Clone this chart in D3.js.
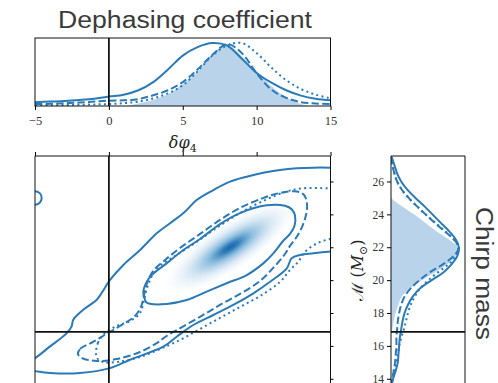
<!DOCTYPE html>
<html>
<head>
<meta charset="utf-8">
<script src="https://cdn.jsdelivr.net/npm/d3@7"></script>
<style>
  html, body { margin: 0; padding: 0; background: #fff; }
  svg { display: block; }
</style>
</head>
<body>
<svg id="chart" width="498" height="383"></svg>
<script>
// ---- data ----
const xTicks = [-5, 0, 5, 10, 15];
const massTicks = [14, 16, 18, 20, 22, 24, 26];
const refX = 0;          // vertical reference line (delta phi_4)
const refMass = 16.85;   // horizontal reference line (chirp mass)

// top marginal: delta phi_4 grid and normalised densities
const phiGrid = [-5,-4,-3,-2,-1,0,1,2,3,4,5,6,7,8,9,10,11,12,13,14,15];
const phiFill   = [0,0,0,0,0,0,0.01,0.05,0.11,0.2,0.36,0.56,0.83,1.0,0.8,0.565,0.33,0.15,0.045,0,0];
const phiSolid  = [0.06,0.07,0.08,0.095,0.115,0.15,0.18,0.25,0.38,0.58,0.8,0.935,1.0,0.96,0.75,0.525,0.37,0.25,0.165,0.115,0.09];
const phiDashed = [0.03,0.035,0.045,0.055,0.07,0.085,0.09,0.11,0.17,0.25,0.38,0.58,0.81,0.985,0.84,0.52,0.26,0.13,0.06,0.04,0.03];
const phiDotted = [0.01,0.012,0.015,0.02,0.025,0.03,0.045,0.07,0.12,0.2,0.33,0.55,0.8,0.96,1.0,0.84,0.61,0.41,0.27,0.18,0.12];

// right marginal: chirp mass grid and normalised densities
const massGrid = [27.5,27,26.5,26,25.5,25,24.5,24,23.5,23,22.5,22,21.5,21,20.5,20,19.5,19,18.5,18,17.5,17,16.5,16,15.5,15,14.5,14,13.5];
const massFill   = [0,0,0,0,0,0.02,0.18,0.36,0.52,0.68,0.86,1.0,0.97,0.86,0.68,0.48,0.3,0.17,0.12,0.08,0.05,0.03,0,0,0,0,0,0,0];
const massSolid  = [0.01,0.05,0.09,0.15,0.24,0.36,0.49,0.61,0.73,0.85,0.95,1.0,0.98,0.9,0.78,0.6,0.43,0.32,0.25,0.2,0.17,0.15,0.13,0.12,0.11,0.1,0.07,0.03,0];
const massDashed = [0,0.02,0.05,0.09,0.16,0.26,0.38,0.51,0.64,0.78,0.92,1.0,0.93,0.78,0.58,0.42,0.29,0.2,0.15,0.12,0.1,0.09,0.08,0.08,0.07,0.06,0.04,0.02,0];
const massDotted = [0,0.02,0.05,0.09,0.16,0.26,0.38,0.51,0.65,0.79,0.92,0.99,0.96,0.86,0.7,0.55,0.43,0.35,0.29,0.25,0.22,0.19,0.15,0.12,0.1,0.08,0.05,0.03,0];

// joint contours [delta phi_4, chirp mass]
const solidOuter = [[-5.34,15.14],[-5,15.26],[-3.98,15.97],[-2.85,16.78],[-2.52,17.19],[-2.41,17.59],[-1.73,18.2],[-0.82,18.81],[-0.49,19.22],[0.08,20.01],[0.98,20.92],[2.11,21.83],[3.24,22.85],[4.14,23.46],[5.15,24.16],[5.94,24.87],[7.07,25.48],[8.2,25.99],[9.33,26.29],[10.45,26.53],[11.58,26.7],[12.71,26.8],[13.84,26.84],[14.97,26.84],[15.98,26.82],
  [15.98,21.71],[14.97,21.74],[13.84,21.63],[12.94,21.53],[12.37,21.33],[12.04,20.72],[10.91,19.9],[9.78,19.2],[8.42,18.49],[7.07,17.88],[5.71,17.27],[4.59,16.56],[3.68,15.95],[1.43,15.16],[0.08,14.65],[-1.95,14.35],[-3.98,14.35],[-4.88,14.45],[-5.34,14.53]];
const solidInner = [[2.45,18.79],[2.33,19.3],[2.78,20.19],[3.91,21.02],[5.04,21.83],[6.17,22.5],[7.52,23.41],[8.87,24.08],[10.68,24.55],[11.92,24.52],[12.39,24.3],[12.6,23.92],[12.56,23.29],[12.26,22.81],[11.79,22.38],[11.13,21.63],[10.45,21.02],[9.33,20.31],[7.97,19.81],[6.62,19.3],[5.27,18.79],[3.91,18.55],[2.78,18.56],[2.51,18.67]];
const solidBlip = [[-5,25.41],[-4.68,25.29],[-4.55,25.0],[-4.68,24.71],[-5,24.59],[-5.32,24.71],[-5.45,25.0],[-5.32,25.29]];
const dashedContour = [[-2.09,15.51],[-1.95,15.81],[-1.07,16.24],[-0.19,16.72],[0.75,17.21],[1.77,17.82],[2.17,18.37],[2.38,19.1],[2.58,19.82],[2.99,20.55],[3.8,21.22],[4.81,21.95],[6.17,22.81],[7.52,23.66],[8.87,24.39],[10.43,24.99],[11.58,25.3],[12.73,25.39],[13.21,25.18],[13.41,24.63],[13.34,23.96],[13.07,23.23],[12.66,22.56],[12.26,22.08],
  [11.92,21.59],[11.24,20.86],[10.23,19.95],[8.87,19.16],[7.52,18.49],[6.17,17.77],[4.59,16.96],[3.91,16.6],[3.24,16.17],[2.11,15.63],[0.53,15.2],[-0.82,15.08],[-1.82,15.26]];
const dottedContour = [[-0.87,15.63],[-0.74,16.18],[-0.4,16.66],[0.53,17.21],[1.43,17.51],[2.11,18.0],[2.38,18.79],[2.58,19.52],[2.92,20.25],[3.46,20.86],[4.48,21.47],[5.83,22.26],[7.18,23.11],[8.87,24.08],[10.57,24.87],[11.92,25.36],[12.94,25.57],[14.97,25.59],[15.98,25.59],
  [15.98,22.62],[14.97,22.5],[14.07,22.23],[13.27,21.71],[12.8,21.1],[12.26,20.62],[11.58,19.89],[10.23,19.03],[8.87,18.37],[7.52,17.7],[6.17,17.03],[4.81,16.36],[3.46,15.81],[2.11,15.33],[0.55,15.02],[-0.4,15.02],[-0.8,15.26]];
// density shading: centre and the two ends of its long axis
const blobCenter = [8.2, 22.0];
const blobAxis = [[3.6, 19.3], [12.8, 24.7]];

// ---- layout ----
const svg = d3.select("#chart");
const blue = "#2a7ab8";
const fillBlue = "#b9d4ea";

const x = d3.scaleLinear().domain([-5, 15]).range([35, 330.5]);
const yTop = d3.scaleLinear().domain([0, 1.08]).range([106, 38]);
const yM = d3.scaleLinear().domain([13.5, 27.55]).range([387, 156]);
const xR = d3.scaleLinear().domain([0, 1.09]).range([391, 465]);

const defs = svg.append("defs");
defs.append("clipPath").attr("id", "clipTop").append("rect")
  .attr("x", x(-5)).attr("y", yTop(1.08)).attr("width", x(15) - x(-5)).attr("height", yTop(0) - yTop(1.08));
defs.append("clipPath").attr("id", "clipMain").append("rect")
  .attr("x", x(-5)).attr("y", yM(27.55)).attr("width", x(15) - x(-5)).attr("height", yM(13.5) - yM(27.55));
defs.append("clipPath").attr("id", "clipRight").append("rect")
  .attr("x", xR(0)).attr("y", yM(27.55)).attr("width", xR(1.09) - xR(0)).attr("height", yM(13.5) - yM(27.55));

const grad = defs.append("radialGradient").attr("id", "blob");
[[0, "#1666aa", 1], [0.12, "#2878b8", 0.95], [0.32, "#63a6d3", 0.72], [0.58, "#a8cbe6", 0.45], [0.82, "#d9e9f5", 0.22], [1, "#ffffff", 0]]
  .forEach(s => grad.append("stop").attr("offset", s[0]).attr("stop-color", s[1]).attr("stop-opacity", s[2]));

// ---- top marginal ----
const gTop = svg.append("g").attr("clip-path", "url(#clipTop)");
const topLine = d3.line().x((d, i) => x(phiGrid[i])).y(d => yTop(d)).curve(d3.curveCatmullRom.alpha(0.5));
const topArea = d3.area().x((d, i) => x(phiGrid[i])).y0(yTop(0)).y1(d => yTop(d)).curve(d3.curveCatmullRom.alpha(0.5));
gTop.append("path").attr("d", topArea(phiFill)).attr("fill", fillBlue);
gTop.append("path").attr("d", topLine(phiFill)).attr("fill", "none").attr("stroke", "#fff").attr("stroke-width", 1.5);
gTop.append("path").attr("d", topLine(phiDotted)).attr("fill", "none").attr("stroke", blue).attr("stroke-width", 2).attr("stroke-dasharray", "2,3.3");
gTop.append("path").attr("d", topLine(phiDashed)).attr("fill", "none").attr("stroke", blue).attr("stroke-width", 2).attr("stroke-dasharray", "7.4,3.2");
gTop.append("path").attr("d", topLine(phiSolid)).attr("fill", "none").attr("stroke", blue).attr("stroke-width", 2);
svg.append("line").attr("x1", x(refX)).attr("x2", x(refX)).attr("y1", yTop(1.08)).attr("y2", yTop(0))
  .attr("stroke", "#111").attr("stroke-width", 1.8);
svg.append("rect").attr("x", x(-5)).attr("y", yTop(1.08)).attr("width", x(15) - x(-5)).attr("height", yTop(0) - yTop(1.08))
  .attr("fill", "none").attr("stroke", "#111").attr("stroke-width", 1);

const axTop = svg.append("g").attr("transform", `translate(0,${yTop(0)})`)
  .call(d3.axisBottom(x).tickValues(xTicks).tickSize(4).tickPadding(6));
axTop.select(".domain").remove();
axTop.selectAll("text").attr("font-family", "Liberation Serif, DejaVu Serif, serif").attr("font-size", 12.5).attr("fill", "#333");

// ---- joint panel ----
const gMain = svg.append("g").attr("clip-path", "url(#clipMain)");
const p0 = [x(blobAxis[0][0]), yM(blobAxis[0][1])], p1 = [x(blobAxis[1][0]), yM(blobAxis[1][1])];
const blobLen = Math.hypot(p1[0] - p0[0], p1[1] - p0[1]) / 2;
const blobAng = Math.atan2(p1[1] - p0[1], p1[0] - p0[0]) * 180 / Math.PI;
gMain.append("ellipse")
  .attr("cx", 0).attr("cy", 0).attr("rx", blobLen).attr("ry", blobLen * 0.3)
  .attr("transform", `translate(${x(blobCenter[0])},${yM(blobCenter[1])}) rotate(${blobAng})`)
  .attr("fill", "url(#blob)");

const closed = d3.line().x(d => x(d[0])).y(d => yM(d[1])).curve(d3.curveCatmullRomClosed.alpha(0.5));
gMain.append("path").attr("d", closed(dottedContour)).attr("fill", "none").attr("stroke", blue).attr("stroke-width", 2).attr("stroke-dasharray", "2,3.3");
gMain.append("path").attr("d", closed(dashedContour)).attr("fill", "none").attr("stroke", blue).attr("stroke-width", 2).attr("stroke-dasharray", "7.4,3.2");
[solidOuter, solidInner, solidBlip].forEach(c =>
  gMain.append("path").attr("d", closed(c)).attr("fill", "none").attr("stroke", blue).attr("stroke-width", 2));

svg.append("line").attr("x1", x(refX)).attr("x2", x(refX)).attr("y1", yM(27.55)).attr("y2", 383)
  .attr("stroke", "#111").attr("stroke-width", 1.8);
svg.append("line").attr("x1", x(-5)).attr("x2", x(15)).attr("y1", yM(refMass)).attr("y2", yM(refMass))
  .attr("stroke", "#111").attr("stroke-width", 1.8);
svg.append("path").attr("d", `M${x(-5)},383V${yM(27.55)}H${x(15)}V383`)
  .attr("fill", "none").attr("stroke", "#111").attr("stroke-width", 1);

const axMainTop = svg.append("g").attr("transform", `translate(0,${yM(27.55)})`)
  .call(d3.axisTop(x).tickValues(xTicks).tickSize(4).tickFormat(""));
axMainTop.select(".domain").remove();
const axMainRight = svg.append("g").attr("transform", `translate(${x(15)},0)`)
  .call(d3.axisRight(yM).tickValues(massTicks).tickSize(3).tickFormat(""));
axMainRight.select(".domain").remove();

// ---- right marginal ----
const gRight = svg.append("g").attr("clip-path", "url(#clipRight)");
const rLine = d3.line().x(d => xR(d)).y((d, i) => yM(massGrid[i])).curve(d3.curveCatmullRom.alpha(0.5));
const rArea = d3.area().x0(xR(0)).x1(d => xR(d)).y((d, i) => yM(massGrid[i])).curve(d3.curveCatmullRom.alpha(0.5));
gRight.append("path").attr("d", rArea(massFill)).attr("fill", fillBlue);
gRight.append("path").attr("d", rLine(massFill)).attr("fill", "none").attr("stroke", "#fff").attr("stroke-width", 1.5);
gRight.append("path").attr("d", rLine(massDotted)).attr("fill", "none").attr("stroke", blue).attr("stroke-width", 2).attr("stroke-dasharray", "2,3.3");
gRight.append("path").attr("d", rLine(massDashed)).attr("fill", "none").attr("stroke", blue).attr("stroke-width", 2).attr("stroke-dasharray", "7.4,3.2");
gRight.append("path").attr("d", rLine(massSolid)).attr("fill", "none").attr("stroke", blue).attr("stroke-width", 2);
svg.append("line").attr("x1", xR(0)).attr("x2", xR(1.09)).attr("y1", yM(refMass)).attr("y2", yM(refMass))
  .attr("stroke", "#111").attr("stroke-width", 1.8);
svg.append("path").attr("d", `M${xR(0)},383V${yM(27.55)}H${xR(1.09)}V383`)
  .attr("fill", "none").attr("stroke", "#111").attr("stroke-width", 1);

const axRight = svg.append("g").attr("transform", `translate(${xR(0)},0)`)
  .call(d3.axisLeft(yM).tickValues(massTicks).tickSize(4).tickPadding(3));
axRight.select(".domain").remove();
axRight.selectAll("text").attr("font-family", "Liberation Serif, DejaVu Serif, serif").attr("font-size", 11.5).attr("fill", "#333");

// ---- labels ----
svg.append("text").attr("x", 185).attr("y", 28).attr("text-anchor", "middle")
  .attr("font-family", "Liberation Sans, Arial, sans-serif").attr("font-size", 23).attr("fill", "#3a3a3a")
  .attr("textLength", 254).attr("lengthAdjust", "spacingAndGlyphs")
  .text("Dephasing coefficient");

const xl = svg.append("text").attr("x", x(5)).attr("y", 148).attr("text-anchor", "middle")
  .attr("font-family", "DejaVu Serif, serif").attr("font-style", "italic").attr("font-size", 16).attr("fill", "#222");
xl.append("tspan").text("δφ");
xl.append("tspan").attr("font-size", 11).attr("font-style", "normal").attr("dy", 4).text("4");

const yl = svg.append("text").attr("transform", "translate(363,270) rotate(-90)").attr("text-anchor", "middle")
  .attr("font-family", "DejaVu Serif, serif").attr("font-size", 16).attr("fill", "#222");
yl.append("tspan").text("ℳ (");
yl.append("tspan").attr("font-style", "italic").text("M");
yl.append("tspan").attr("font-size", 11).attr("dy", 4).text("⊙");
yl.append("tspan").attr("dy", -4).text(")");

svg.append("text").attr("transform", "translate(476,273.5) rotate(90)").attr("text-anchor", "middle")
  .attr("font-family", "Liberation Sans, Arial, sans-serif").attr("font-size", 23).attr("fill", "#3a3a3a")
  .attr("textLength", 133).attr("lengthAdjust", "spacingAndGlyphs")
  .text("Chirp mass");
</script>
</body>
</html>
